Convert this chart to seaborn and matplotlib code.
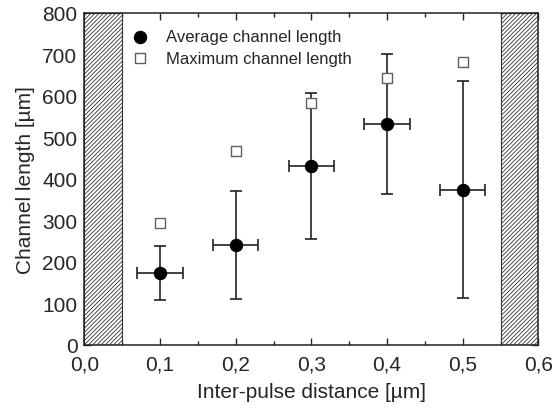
import matplotlib
matplotlib.use("Agg")
import matplotlib.pyplot as plt
import seaborn as sns
import pandas as pd

sns.set_style("ticks")
plt.rcParams['font.family'] = ['Liberation Sans', 'DejaVu Sans']
plt.rcParams['hatch.linewidth'] = 0.6

# Data
distance = [0.1, 0.2, 0.3, 0.4, 0.5]         # µm
avg_length = [173, 240, 431, 532, 373]       # µm
err_low = [107, 110, 254, 362, 112]          # lower end of error bar
err_high = [238, 371, 606, 701, 636]         # upper end of error bar
x_err = [0.03, 0.03, 0.03, 0.03, 0.03]
max_length = [292, 466, 582, 643, 681]

df = pd.DataFrame({"distance": distance, "avg": avg_length, "max": max_length,
                   "lo": err_low, "hi": err_high, "xerr": x_err})

fig, ax = plt.subplots(figsize=(5.55, 4.1), dpi=100)

# hatched forbidden zones
ax.axvspan(0.0, 0.05, facecolor="white", edgecolor="#333333", hatch="////////", lw=0.8)
ax.axvspan(0.55, 0.6, facecolor="white", edgecolor="#333333", hatch="////////", lw=0.8)

yerr = [df["avg"] - df["lo"], df["hi"] - df["avg"]]
ax.errorbar(df["distance"], df["avg"], yerr=yerr, xerr=df["xerr"], fmt="none",
            ecolor="#222222", elinewidth=1.2, capsize=4, capthick=1.2, zorder=3)

sns.scatterplot(data=df, x="distance", y="avg", ax=ax, marker="o", s=80,
                color="black", edgecolor="black", zorder=4,
                label="Average channel length")
sns.scatterplot(data=df, x="distance", y="max", ax=ax, marker="s", s=44,
                facecolor="white", edgecolor="#606060", linewidth=1.0, zorder=4,
                label="Maximum channel length")

ax.set_xlim(0, 0.6)
ax.set_ylim(0, 800)
ax.set_xticks([0, 0.1, 0.2, 0.3, 0.4, 0.5, 0.6])
ax.set_xticklabels(["0,0", "0,1", "0,2", "0,3", "0,4", "0,5", "0,6"])
ax.set_xticks([0.05, 0.15, 0.25, 0.35, 0.45, 0.55], minor=True)
ax.set_yticks(range(0, 801, 100))
ax.set_yticks(range(50, 800, 100), minor=True)
ax.tick_params(which="both", direction="in", top=True, right=True, labelsize=15, width=1)
ax.tick_params(axis="x", which="major", pad=7)
ax.tick_params(axis="y", which="major", pad=5)
ax.tick_params(which="major", length=5)
ax.tick_params(which="minor", length=3)
for s in ax.spines.values():
    s.set_linewidth(1.1)
    s.set_color("#222222")

ax.set_xlabel("Inter-pulse distance [µm]", fontsize=15, labelpad=6)
ax.set_ylabel("Channel length [µm]", fontsize=15, labelpad=5)

ax.legend(loc="upper left", bbox_to_anchor=(0.05, 1.0), frameon=False, fontsize=12,
          handletextpad=0.55, labelspacing=0.38, borderaxespad=0.6)

plt.subplots_adjust(left=0.152, right=0.97, top=0.967, bottom=0.157)
plt.savefig("out.png", dpi=100)
